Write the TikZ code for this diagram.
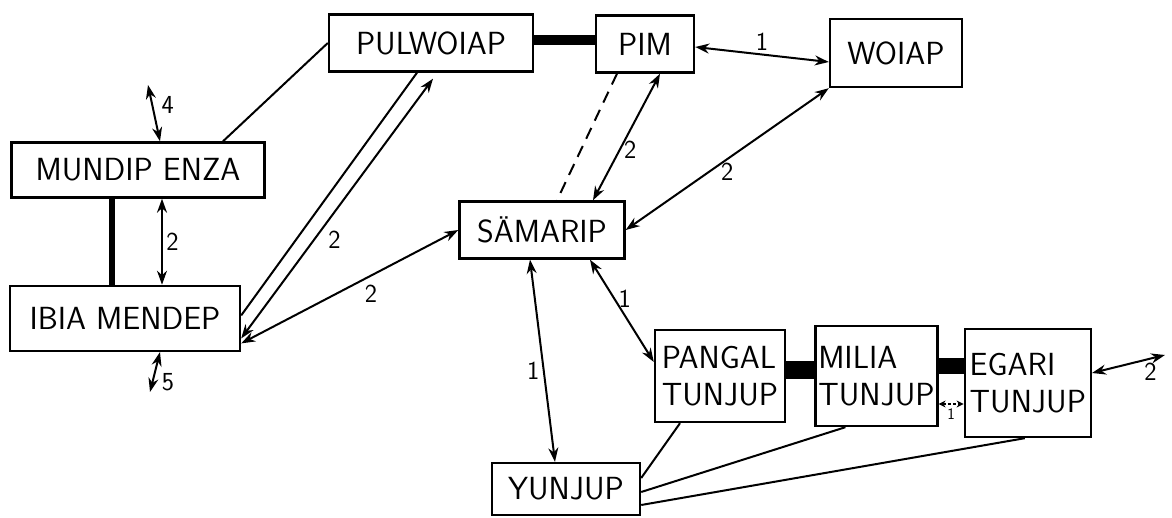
\documentclass[tikz,border=0pt]{standalone}
\usepackage{fontspec}
\usepackage{tikz}
\usetikzlibrary{arrows.meta,positioning}

\begin{document}
\begin{tikzpicture}[
  x=1pt,y=1pt,
  font=\sffamily\fontsize{32}{37}\selectfont,
  b/.style={draw,line width=2.4pt,inner sep=2pt,align=center},
  t/.style={b,align=left},
  fl/.style={{Stealth[length=14pt,width=10pt]}-{Stealth[length=14pt,width=10pt]},
             line width=2pt},
  ln/.style={line width=2pt},
  bar/.style={line width=#1},
  lab/.style={font=\sffamily\fontsize{26}{30}\selectfont},
  ]
  \useasboundingbox (0,0) rectangle (1172,517);
  \node[b,minimum width=253pt,minimum height=55pt] (mundip) at (138,347)
    {MUNDIP ENZA};
  \node[b,minimum width=230pt,minimum height=65pt,below=86pt of mundip,
    xshift=-13pt] (ibia) {IBIA MENDEP};
  \node[b,minimum width=204pt,minimum height=57pt] (pulwoiap) at (431,474)
    {PULWOIAP};
  \node[b,minimum width=98pt,minimum height=57pt] (pim) at (645,473) {PIM};
  \node[b,minimum width=132pt,minimum height=68pt] (woiap) at (896,464)
    {WOIAP};
  \node[b,minimum width=165pt,minimum height=57pt] (samarip) at (542,287)
    {SÄMARIP};
  \node[b,minimum width=148pt,minimum height=52pt] (yunjup) at (566,28)
    {YUNJUP};
  \node[t,minimum width=130pt,minimum height=92pt] (pangal) at (720,141)
    {PANGAL\\TUNJUP};
  \node[t,minimum width=122pt,minimum height=100pt,right=28pt of pangal]
    (milia) {MILIA\\TUNJUP};
  \node[t,minimum width=126pt,minimum height=108pt,right=25pt of milia,
    yshift=-7pt] (egari) {EGARI\\TUNJUP};
  \coordinate (up4) at (148,432);
  \coordinate (dn5) at (150,125);
  \coordinate (out2) at (1165,162);

  \draw[ln] ([xshift=85pt]mundip.north) -- (pulwoiap.west);
  \draw[fl] ([xshift=22pt]mundip.north) -- node[lab,pos=0.65,right=5pt]{4}
    (up4);
  \draw[bar=6pt] ([xshift=-26pt]mundip.south)
    -- ([xshift=-26pt]mundip.south |- ibia.north);
  \draw[fl] ([xshift=24pt]mundip.south) -- node[lab,right]{2}
    ([xshift=24pt]mundip.south |- ibia.north);
  \draw[fl] ([xshift=35pt]ibia.south) -- node[lab,pos=0.75,right=5pt]{5}
    (dn5);
  \draw[ln] ([xshift=-14pt]pulwoiap.south) -- ([yshift=3pt]ibia.east);
  \draw[fl] ([yshift=-20pt]ibia.east) -- node[lab,pos=0.38,right=10pt]{2}
    ([xshift=2pt,yshift=-6pt]pulwoiap.south);
  \draw[fl] ([yshift=-25pt]ibia.east) -- node[lab,pos=0.55,below right]{2}
    (samarip.west);
  \draw[bar=10pt] ([yshift=3pt]pulwoiap.east)
    -- ([yshift=3pt]pulwoiap.east -| pim.west);
  \draw[ln,dash pattern=on 12pt off 8pt] ([xshift=-28pt]pim.south)
    -- ([xshift=15pt]samarip.north);
  \draw[fl] ([xshift=51pt]samarip.north) -- node[lab,pos=0.4,right]{2}
    ([xshift=15pt]pim.south);
  \draw[fl] ([yshift=-3pt]pim.east) -- node[lab,above]{1}
    ([yshift=-9pt]woiap.west);
  \draw[fl] (woiap.south west) -- node[lab,below]{2} (samarip.east);
  \draw[fl] ([xshift=-12pt]samarip.south) -- node[lab,pos=0.55,left]{1}
    ([xshift=-11pt]yunjup.north);
  \draw[fl] ([xshift=48pt]samarip.south) -- node[lab,pos=0.38,right]{1}
    ([yshift=14pt]pangal.west);
  \draw[bar=18pt] ([yshift=6pt]pangal.east)
    -- ([yshift=6pt]pangal.east -| milia.west);
  \draw[bar=16pt] ([yshift=10pt]milia.east)
    -- ([yshift=10pt]milia.east -| egari.west);
  \draw[dash pattern=on 3pt off 2pt,line width=2.4pt,
    {Stealth[length=7pt,width=7pt]}-{Stealth[length=7pt,width=7pt]}]
    ([yshift=-28pt]milia.east)
    -- node[lab,font=\sffamily\fontsize{16}{18}\selectfont,below]{1}
    ([yshift=-28pt]milia.east -| egari.west);
  \draw[fl] ([yshift=10pt]egari.east) -- node[lab,pos=0.8,below]{2} (out2);
  \draw[ln] ([yshift=11pt]yunjup.east) -- ([xshift=-40pt]pangal.south);
  \draw[ln] ([yshift=-3pt]yunjup.east) -- ([xshift=-31pt]milia.south);
  \draw[ln] ([yshift=-16pt]yunjup.east) -- ([xshift=-3pt]egari.south);
\end{tikzpicture}
\end{document}
